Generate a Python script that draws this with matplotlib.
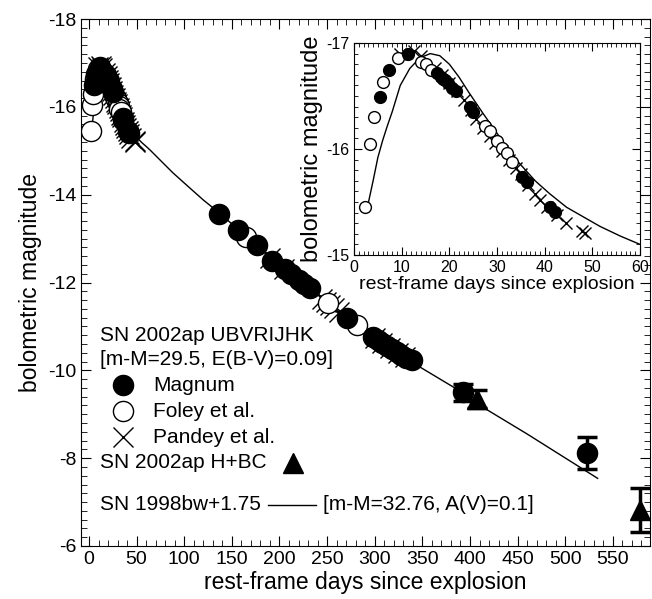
import numpy as np
import matplotlib
matplotlib.use("Agg")
from matplotlib import pyplot as plt
from matplotlib.ticker import MultipleLocator

plt.rcParams['font.family'] = ['Liberation Sans', 'DejaVu Sans']
plt.rcParams['axes.unicode_minus'] = False

# SN 2002ap bolometric light curve
magnum_day = [5.5, 7.4, 11.3, 17.5, 18.3, 19.0, 19.8, 20.5, 21.3, 24.3, 25.0, 35.2, 36.2, 41.1, 42.2,
              136, 156, 176, 192, 206, 212, 221, 226, 232, 271,
              298, 303, 308, 313, 318, 323, 328, 333, 339]
magnum_mag = [-16.49, -16.75, -16.9, -16.72, -16.68, -16.65, -16.62, -16.58, -16.55, -16.4, -16.35, -15.74, -15.69, -15.45, -15.41,
              -13.56, -13.19, -12.85, -12.5, -12.3, -12.2, -12.05, -11.97, -11.87, -11.2,
              -10.76, -10.69, -10.62, -10.55, -10.48, -10.41, -10.35, -10.29, -10.23]

foley_day = [2.3, 3.3, 4.1, 6.1, 9.2, 14.0, 15.2, 16.1, 18.7, 27.5, 28.5, 30.0, 31.0, 32.0, 33.1, 165, 251, 281]
foley_mag = [-15.45, -16.05, -16.3, -16.63, -16.86, -16.82, -16.8, -16.75, -16.66, -16.22, -16.17, -16.08, -16.01, -15.96, -15.88,
             -13.03, -11.53, -11.03]

pandey_day = [9.7, 12.5, 14, 17, 18.5, 20, 21.5, 23, 24.5, 25.5, 27, 28.5, 29.5, 31, 32.5, 34, 35, 36.5, 38, 39,
              40.5, 42.5, 44.5, 47.8, 48.5,
              190, 205, 245, 249, 253, 257, 262, 300, 308, 316, 324, 332]
pandey_mag = [-16.9, -16.92, -16.88, -16.76, -16.7, -16.62, -16.55, -16.46, -16.37, -16.28, -16.2, -16.12, -16.06, -15.98,
              -15.9, -15.82, -15.76, -15.66, -15.58, -15.52, -15.45, -15.38, -15.3, -15.23, -15.21,
              -12.55, -12.3, -11.62, -11.55, -11.49, -11.42, -11.34, -10.73, -10.62, -10.5, -10.4, -10.3]

# late Magnum points with error bars
late_day = [393, 523]
late_mag = [-9.5, -8.12]
late_err = [0.2, 0.37]

# H + bolometric correction
hbc_day = [407, 578]
hbc_mag = [-9.35, -6.82]
hbc_err = [0.2, 0.5]

# SN 1998bw + 1.75 mag
model_day = [2.8, 4, 5, 6, 7, 8, 9.7, 11.7, 13.8, 16, 18, 20, 22, 24, 27, 30.6, 34, 38, 41, 44.6, 51.6, 55.8, 60,
             64, 76, 88, 106, 120, 136, 156, 176, 221, 276, 300, 344, 384, 415, 460, 512, 534]
model_mag = [-15.45, -15.7, -15.92, -16.08, -16.22, -16.35, -16.6, -16.76, -16.86, -16.9, -16.88, -16.8, -16.68, -16.54,
             -16.34, -16.11, -15.9, -15.7, -15.58, -15.45, -15.27, -15.18, -15.1,
             -15.02, -14.76, -14.5, -14.15, -13.88, -13.6, -13.22, -12.86, -12.05, -11.15, -10.75, -10.12, -9.6, -9.14,
             -8.55, -7.84, -7.54]

fig = plt.figure(figsize=(6.52, 5.99), dpi=100)
ax = fig.add_axes([0.1242, 0.0885, 0.8728, 0.8797])

ax.plot(model_day, model_mag, color='black', lw=1, zorder=1)
ax.plot(pandey_day, pandey_mag, 'x', color='black', ms=14, mew=1, zorder=2)
ax.plot(foley_day, foley_mag, 'o', mfc='white', mec='black', ms=14.5, mew=1, zorder=3)
ax.plot(magnum_day, magnum_mag, 'o', color='black', ms=14.5, zorder=4)
ax.errorbar(late_day, late_mag, yerr=late_err, fmt='o', color='black', ms=14.5, elinewidth=2.5,
            capsize=7, capthick=2.5, zorder=4)
ax.errorbar(hbc_day, hbc_mag, yerr=hbc_err, fmt='^', color='black', ms=15, elinewidth=2.5,
            capsize=7, capthick=2.5, zorder=4, clip_on=False)

ax.set_xlim(-8.4, 589)
ax.set_ylim(-6, -18)
ax.xaxis.set_major_locator(MultipleLocator(50))
ax.xaxis.set_minor_locator(MultipleLocator(10))
ax.yaxis.set_major_locator(MultipleLocator(2))
ax.yaxis.set_minor_locator(MultipleLocator(0.2))
ax.tick_params(which='both', direction='in', top=True, right=True, labelsize=14)
ax.tick_params(which='major', length=7)
ax.tick_params(which='minor', length=4)
ax.set_xlabel("rest-frame days since explosion", fontsize=16.5, labelpad=2)
ax.set_ylabel("bolometric magnitude", fontsize=16.5, labelpad=4)

# legend drawn as text and markers
fs = 15
tr = ax.transAxes
ax.text(0.0334, 0.400, "SN 2002ap UBVRIJHK", transform=tr, fontsize=fs, va='center')
ax.text(0.0334, 0.353, "[m-M=29.5, E(B-V)=0.09]", transform=tr, fontsize=fs, va='center')
ax.plot([0.0738], [0.3055], 'o', color='black', ms=14.5, transform=tr)
ax.text(0.1265, 0.3055, "Magnum", transform=tr, fontsize=fs, va='center')
ax.plot([0.0738], [0.256], 'o', mfc='white', mec='black', ms=14.5, transform=tr)
ax.text(0.1265, 0.256, "Foley et al.", transform=tr, fontsize=fs, va='center')
ax.plot([0.0738], [0.2068], 'x', color='black', ms=15, mew=1, transform=tr)
ax.text(0.1265, 0.2068, "Pandey et al.", transform=tr, fontsize=fs, va='center')
ax.text(0.0334, 0.1575, "SN 2002ap H+BC", transform=tr, fontsize=fs, va='center')
ax.plot([0.3726], [0.1575], '^', color='black', ms=15, transform=tr)
ax.text(0.0334, 0.0778, "SN 1998bw+1.75", transform=tr, fontsize=fs, va='center')
ax.plot([0.3286, 0.413], [0.0778, 0.0778], color='black', lw=1, transform=tr)
ax.text(0.4253, 0.0778, "[m-M=32.76, A(V)=0.1]", transform=tr, fontsize=fs, va='center')

# inset: first 60 days
ins = fig.add_axes([0.543, 0.5743, 0.4386, 0.3539])
ins.plot(model_day, model_mag, color='black', lw=1, zorder=1)
ins.plot(pandey_day, pandey_mag, 'x', color='black', ms=9, mew=1, zorder=2)
ins.plot(foley_day, foley_mag, 'o', mfc='white', mec='black', ms=8.5, mew=1, zorder=3)
ins.plot(magnum_day, magnum_mag, 'o', color='black', ms=8.5, zorder=4)
ins.set_xlim(0, 60)
ins.set_ylim(-15, -17)
ins.xaxis.set_major_locator(MultipleLocator(10))
ins.xaxis.set_minor_locator(MultipleLocator(1))
ins.yaxis.set_major_locator(MultipleLocator(1))
ins.yaxis.set_minor_locator(MultipleLocator(0.1))
ins.tick_params(which='both', direction='in', top=True, right=True, labelsize=11.5)
ins.tick_params(which='major', length=6)
ins.tick_params(which='minor', length=3)
ins.set_xlabel("rest-frame days since explosion", fontsize=14, labelpad=1)
ins.set_ylabel("bolometric magnitude", fontsize=17, labelpad=2)

plt.savefig("out.png", dpi=100)
plt.close()
